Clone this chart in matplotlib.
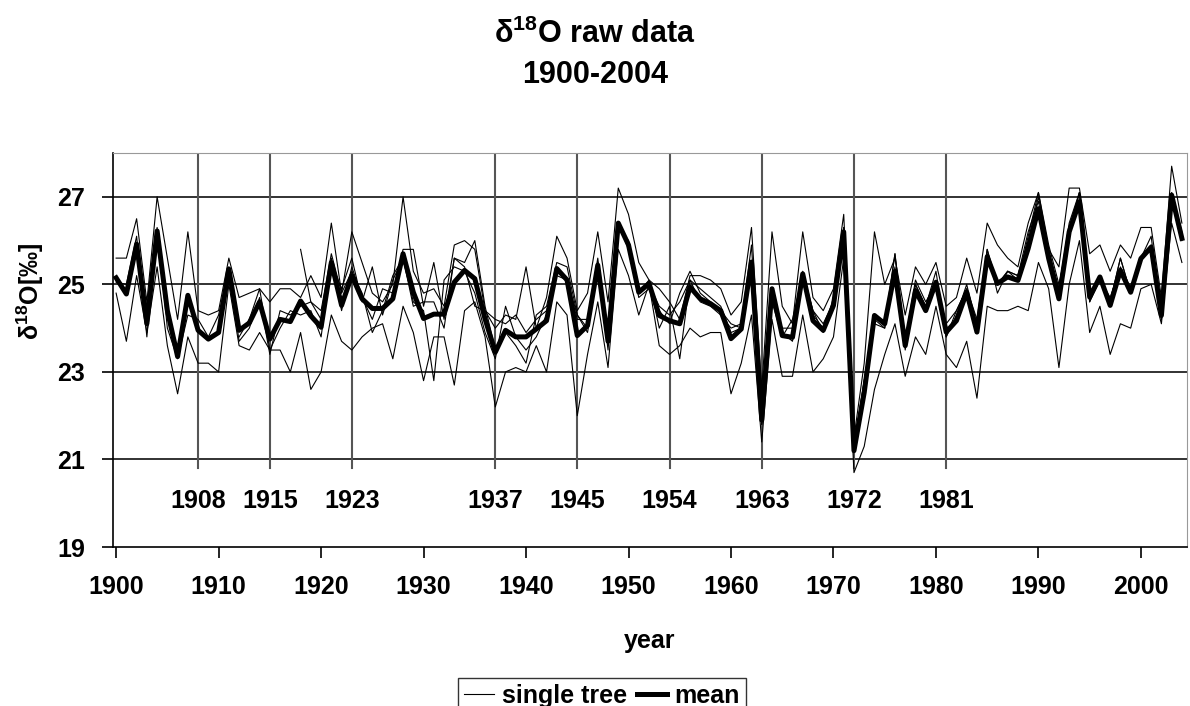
import numpy as np
import matplotlib
matplotlib.use("Agg")
import matplotlib.pyplot as plt

plt.rcParams['font.family'] = ['Liberation Sans', 'DejaVu Sans']
plt.rcParams['font.weight'] = 'bold'
plt.rcParams['mathtext.fontset'] = 'custom'
plt.rcParams['mathtext.rm'] = 'Liberation Sans:bold'
plt.rcParams['mathtext.it'] = 'Liberation Sans:bold'
plt.rcParams['mathtext.bf'] = 'Liberation Sans:bold'

years = np.arange(1900, 2005)

# mean of all trees
mean = [25.15, 24.78, 25.92, 24.10, 26.22, 24.40, 23.35, 24.75, 23.95, 23.75,
        23.90, 25.35, 23.95, 24.12, 24.60, 23.75, 24.20, 24.15, 24.62, 24.28,
        24.02, 25.50, 24.52, 25.20, 24.67, 24.45, 24.45, 24.67, 25.70, 24.82,
        24.22, 24.32, 24.32, 25.05, 25.32, 25.13, 24.21, 23.45, 23.95, 23.80,
        23.80, 23.98, 24.17, 25.36, 25.10, 23.83, 24.06, 25.44, 23.70, 26.40,
        25.90, 24.82, 25.02, 24.29, 24.17, 24.10, 24.94, 24.67, 24.56, 24.40,
        23.76, 23.98, 25.51, 21.90, 24.90, 23.83, 23.79, 25.24, 24.17, 23.95,
        24.52, 26.20, 21.20, 22.53, 24.29, 24.10, 25.30, 23.60, 24.86, 24.40,
        25.05, 23.91, 24.17, 24.82, 23.91, 25.63, 25.02, 25.17, 25.09, 25.82,
        26.73, 25.59, 24.67, 26.20, 26.89, 24.71, 25.17, 24.52, 25.32, 24.82,
        25.59, 25.85, 24.29, 27.04, 26.05]

tree1 = [25.6, 25.6, 26.5, 24.6, 27.0, 25.6, 24.2, 26.2, 24.4, 24.3,
         24.4, 25.6, 24.7, 24.8, 24.9, 24.6, 24.9, 24.9, 24.7, 25.2,
         24.7, 26.4, 24.8, 26.2, 25.5, 24.8, 24.6, 25.0, 27.0, 25.3,
         24.8, 24.9, 24.5, 25.9, 26.0, 25.8, 24.4, 24.0, 24.3, 24.2,
         25.4, 24.0, 24.7, 26.1, 25.6, 24.4, 24.8, 26.2, 24.6, 27.2,
         26.6, 25.5, 25.1, 24.9, 24.6, 24.2, 25.2, 25.2, 25.1, 24.9,
         24.3, 24.6, 26.3, 22.6, 26.2, 24.5, 24.1, 26.2, 24.7, 24.4,
         24.9, 26.6, 21.5, 23.2, 26.2, 25.0, 25.6, 24.3, 25.4, 25.0,
         25.5, 24.5, 24.7, 25.6, 24.8, 26.4, 25.9, 25.6, 25.4, 26.4,
         27.1, 25.8, 25.4, 27.2, 27.2, 25.7, 25.9, 25.3, 25.9, 25.6,
         26.3, 26.3, 24.7, 27.7, 26.4]

tree2 = [24.8, 23.7, 25.2, 23.9, 25.4, 23.6, 22.5, 23.8, 23.2, 23.2,
         23.0, 25.0, 23.6, 23.5, 23.9, 23.5, 23.5, 23.0, 23.9, 22.6,
         23.0, 24.3, 23.7, 23.5, 23.8, 24.0, 24.1, 23.3, 24.5, 23.9,
         22.8, 23.8, 23.8, 22.7, 24.4, 24.6, 23.8, 22.2, 23.0, 23.1,
         23.0, 23.6, 23.0, 24.6, 24.3, 22.0, 23.4, 24.6, 23.1, 25.8,
         25.2, 24.3, 25.0, 23.6, 23.4, 23.6, 24.0, 23.8, 23.9, 23.9,
         22.5, 23.2, 24.3, 21.4, 24.2, 22.9, 22.9, 24.3, 23.0, 23.3,
         23.8, 25.6, 20.7, 21.3, 22.6, 23.4, 24.1, 22.9, 23.8, 23.4,
         24.5, 23.4, 23.1, 23.7, 22.4, 24.5, 24.4, 24.4, 24.5, 24.4,
         25.5, 24.9, 23.1, 25.0, 26.0, 23.9, 24.5, 23.4, 24.1, 24.0,
         24.9, 25.0, 24.1, 26.4, 25.5]

tree3 = [25.05, 25.0, 26.1, 23.8, 26.3, 24.0, 23.3, 24.3, 24.2, 23.8,
         24.3, 25.4, 23.7, 24.0, 24.7, 23.4, 24.4, 24.3, 24.5, 24.6,
         24.2, 25.6, 24.4, 25.4, 24.7, 24.2, 24.9, 24.8, 25.8, 25.8,
         24.5, 25.5, 24.2, 25.6, 25.5, 26.0, 24.5, 23.5, 23.9, 23.6,
         23.2, 24.3, 24.5, 25.5, 25.4, 24.3, 24.0, 25.5, 23.5, 26.4,
         25.8, 24.8, 25.0, 24.5, 24.3, 24.6, 25.1, 24.9, 24.7, 24.5,
         23.9, 24.0, 25.5, 21.8, 24.8, 23.9, 23.7, 25.3, 24.4, 24.1,
         24.6, 26.3, 21.2, 22.5, 24.2, 24.0, 25.4, 23.5, 25.0, 24.5,
         25.3, 23.8, 24.3, 25.0, 24.0, 25.7, 25.0, 25.3, 25.2, 26.2,
         26.9, 25.6, 24.9, 26.3, 27.1, 24.6, 25.1, 24.7, 25.4, 24.9,
         25.6, 26.1, 24.2, 27.0, 26.1]

# tree 4 starts in 1912, tree 5 in 1918
tree4 = [np.nan] * 12 + [
         23.8, 24.2, 24.9, 23.5, 24.0, 24.4, 24.3, 24.4,
         23.8, 25.5, 24.9, 25.6, 24.6, 25.4, 24.3, 25.1, 25.6, 24.6,
         24.4, 22.8, 25.1, 25.4, 25.3, 24.8, 23.9, 23.3, 24.5, 23.8,
         23.5, 23.8, 24.3, 25.4, 25.1, 24.2, 24.2, 25.6, 23.7, 26.3,
         26.0, 24.8, 25.1, 24.0, 24.5, 23.3, 25.1, 24.6, 24.5, 24.3,
         24.0, 24.1, 25.9, 21.9, 24.6, 23.8, 24.2, 25.2, 24.4, 23.9,
         24.7, 26.2, 21.3, 22.8, 24.3, 24.1, 25.7, 23.7, 25.1, 24.6,
         25.0, 24.1, 24.4, 24.9, 24.2, 25.8, 25.0, 25.3, 25.2, 26.0,
         27.0, 25.8, 24.9, 26.4, 27.1, 24.7, 25.2, 24.6, 25.6, 24.8,
         25.6, 25.9, 24.3, 27.1, 26.2]

tree5 = [np.nan] * 18 + [
         25.8, 24.6,
         24.4, 25.7, 24.8, 25.3, 24.8, 23.9, 24.4, 25.2, 25.6, 24.5,
         24.6, 24.6, 24.0, 25.6, 25.4, 24.5, 24.4, 24.2, 24.1, 24.3,
         23.9, 24.2, 24.4, 25.2, 25.1, 24.3, 23.9, 25.3, 23.6, 26.3,
         25.9, 24.7, 24.9, 24.4, 24.1, 24.8, 25.3, 24.8, 24.6, 24.4,
         24.1, 24.0, 25.5, 21.8, 24.7, 24.0, 24.0, 25.2, 24.3, 24.0,
         24.6, 26.3, 21.3, 22.8, 24.1, 24.0, 25.7, 23.6, 25.0, 24.5,
         24.9, 23.8, 24.4, 24.9, 24.1, 25.8, 24.8, 25.3, 25.1, 26.1,
         27.1, 25.9, 25.0, 26.1, 27.1, 24.6, 25.2, 24.6, 25.6, 24.8,
         25.6, 25.9, 24.2, 27.0, 26.0]

trees = [tree1, tree2, tree3, tree4, tree5]

# marked years (vertical lines + labels)
event_years = [1908, 1915, 1923, 1937, 1945, 1954, 1963, 1972, 1981]

fig = plt.figure(figsize=(11.9, 7.06), dpi=100)
ax = fig.add_axes([0.095, 0.2252, 0.9025, 0.558])

for yv in [21, 23, 25, 27]:
    ax.axhline(yv, color='#222222', lw=1.3, zorder=1)

for ey in event_years:
    ax.plot([ey, ey], [20.8, 28], color='#555555', lw=1.5, zorder=1)
    ax.text(ey, 20.05, str(ey), ha='center', va='center', fontsize=18, fontweight='bold')

for i, t in enumerate(trees):
    ax.plot(years, t, color='black', lw=0.8, zorder=2, label='single tree' if i == 0 else None)
ax.plot(years, mean, color='black', lw=3.6, zorder=3, label='mean')

ax.set_xlim(1899.7, 2004.5)
ax.set_ylim(19, 28)
ax.set_xticks(range(1900, 2001, 10))
ax.set_yticks([19, 21, 23, 25, 27])
ax.tick_params(axis='both', direction='out', length=8, width=1.2, labelsize=18, pad=12)
for lab in ax.get_xticklabels() + ax.get_yticklabels():
    lab.set_fontweight('bold')

ax.spines['left'].set_color('black')
ax.spines['bottom'].set_color('black')
ax.spines['left'].set_linewidth(1.2)
ax.spines['bottom'].set_linewidth(1.2)
ax.spines['top'].set_color('#999999')
ax.spines['right'].set_color('#999999')

ax.set_xlabel('year', fontsize=18, fontweight='bold', labelpad=22)
ax.set_ylabel(r'δ$^{18}$O[‰]', fontsize=18, fontweight='bold', labelpad=4)
ax.yaxis.set_label_coords(-0.062, 0.65)

fig.text(0.5, 0.939, r'δ$^{18}$O raw data', ha='center', va='baseline', fontsize=22, fontweight='bold')
fig.text(0.5, 0.882, '1900-2004', ha='center', va='baseline', fontsize=22, fontweight='bold')

leg = fig.legend(loc='upper left', bbox_to_anchor=(458 / 1190, 0.040),
                 ncol=2, fontsize=18, frameon=True, fancybox=False, edgecolor='black',
                 handlelength=1.2, handletextpad=0.3, columnspacing=0.4, borderpad=0.25,
                 borderaxespad=0)
leg.get_frame().set_linewidth(1.0)
for txt in leg.get_texts():
    txt.set_fontweight('bold')

fig.savefig('out.png', dpi=100)
